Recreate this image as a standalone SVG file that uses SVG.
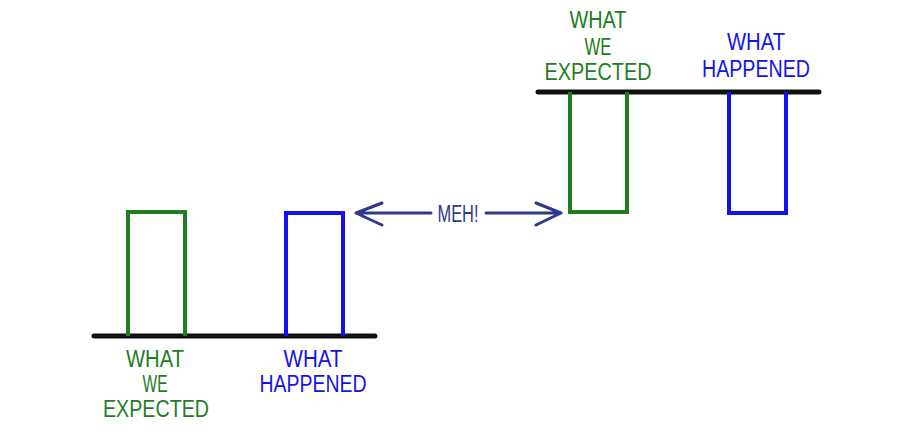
<svg xmlns="http://www.w3.org/2000/svg" width="900" height="439" viewBox="0 0 900 439">
<style>
.base{stroke:#111;stroke-width:5;stroke-linecap:round;fill:none}
.g{stroke:#1e7d1e;stroke-width:4;fill:none;stroke-linejoin:miter}
.b{stroke:#1212ee;stroke-width:4;fill:none;stroke-linejoin:miter}
.t{font-family:"Liberation Sans",Arial,sans-serif;font-size:23px;text-anchor:middle}
.tg{fill:#1e7d1e}
.tb{fill:#1212ee}
.tm{fill:#2d3a8c}
.arr{stroke:#2d3a8c;stroke-width:3;fill:none;stroke-linecap:round;stroke-linejoin:round}
</style>
<rect width="900" height="439" fill="#fff"/>
<g id="lower-baseline"><path class="base" d="M94 336 L375 336"/></g>
<g id="lower-expected">
<path class="g" d="M128 336 L128 212 L185 212 L185 336"/>
<text class="t tg" x="155" y="367" textLength="58" lengthAdjust="spacingAndGlyphs">WHAT</text>
<text class="t tg" x="155" y="392" textLength="25" lengthAdjust="spacingAndGlyphs">WE</text>
<text class="t tg" x="156" y="417" textLength="106" lengthAdjust="spacingAndGlyphs">EXPECTED</text>
</g>
<g id="lower-happened">
<path class="b" d="M286 336 L286 213 L343 213 L343 336"/>
<text class="t tb" x="313" y="367" textLength="59" lengthAdjust="spacingAndGlyphs">WHAT</text>
<text class="t tb" x="313" y="392" textLength="107" lengthAdjust="spacingAndGlyphs">HAPPENED</text>
</g>
<g id="upper-baseline"><path class="base" d="M538 92 L819 92"/></g>
<g id="upper-expected">
<path class="g" d="M570 92 L570 212 L627 212 L627 92"/>
<text class="t tg" x="598" y="28" textLength="57" lengthAdjust="spacingAndGlyphs">WHAT</text>
<text class="t tg" x="598" y="55" textLength="27" lengthAdjust="spacingAndGlyphs">WE</text>
<text class="t tg" x="598" y="80" textLength="107" lengthAdjust="spacingAndGlyphs">EXPECTED</text>
</g>
<g id="upper-happened">
<path class="b" d="M729 92 L729 213 L786 213 L786 92"/>
<text class="t tb" x="756" y="50" textLength="58" lengthAdjust="spacingAndGlyphs">WHAT</text>
<text class="t tb" x="756" y="77" textLength="108" lengthAdjust="spacingAndGlyphs">HAPPENED</text>
</g>
<g id="connectors">
<path class="arr" d="M356 213 L431 213 M382 203 L356 213 L382 225"/>
<path class="arr" d="M486 213 L561 213 M536 203 L561 213 L536 225"/>
<text class="t tm" x="458" y="222" textLength="41" lengthAdjust="spacingAndGlyphs">MEH!</text>
</g>
</svg>
